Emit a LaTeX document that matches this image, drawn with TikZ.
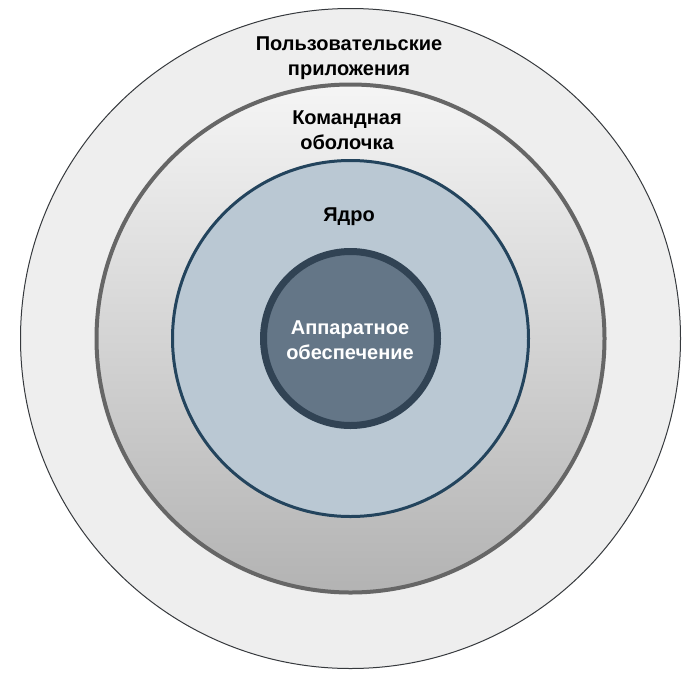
\documentclass[tikz,border=0pt]{standalone}
\usepackage{fontspec}
\setmainfont{Liberation Sans}
\usepackage{tikz}
\definecolor{appfill}{HTML}{EEEEEE}
\definecolor{appline}{HTML}{36393D}
\definecolor{shelltop}{HTML}{F5F5F5}
\definecolor{shellbot}{HTML}{B3B3B3}
\definecolor{shellline}{HTML}{666666}
\definecolor{kernfill}{HTML}{BAC8D3}
\definecolor{kernline}{HTML}{23445D}
\definecolor{hwfill}{HTML}{647687}
\definecolor{hwline}{HTML}{314354}

\begin{document}
\begin{tikzpicture}[x=1pt,y=-1pt,
  layer/.style={font=\bfseries\fontsize{20}{25}\selectfont,align=center,inner sep=0pt}]
\useasboundingbox (0,0) rectangle (693,678);
\coordinate (c) at (350.5,338.5);
% rings, from the outside in
\draw[fill=appfill,draw=appline,line width=1pt] (c) circle[radius=330];
\shade[top color=shelltop,bottom color=shellbot] (c) circle[radius=254];
\draw[shellline,line width=4pt] (c) circle[radius=254];
\draw[fill=kernfill,draw=kernline,line width=3pt] (c) circle[radius=178];
\draw[fill=hwfill,draw=hwline,line width=7pt] (c) circle[radius=87];
% labels
\node[layer] (apps) at (349,58) {Пользовательские\\приложения};
\node[layer] (shell) at (347,130) {Командная\\оболочка};
\node[layer] (kernel) at (349,217) {Ядро};
\node[layer,white] (hw) at (350,340) {Аппаратное\\обеспечение};
\end{tikzpicture}
\end{document}
